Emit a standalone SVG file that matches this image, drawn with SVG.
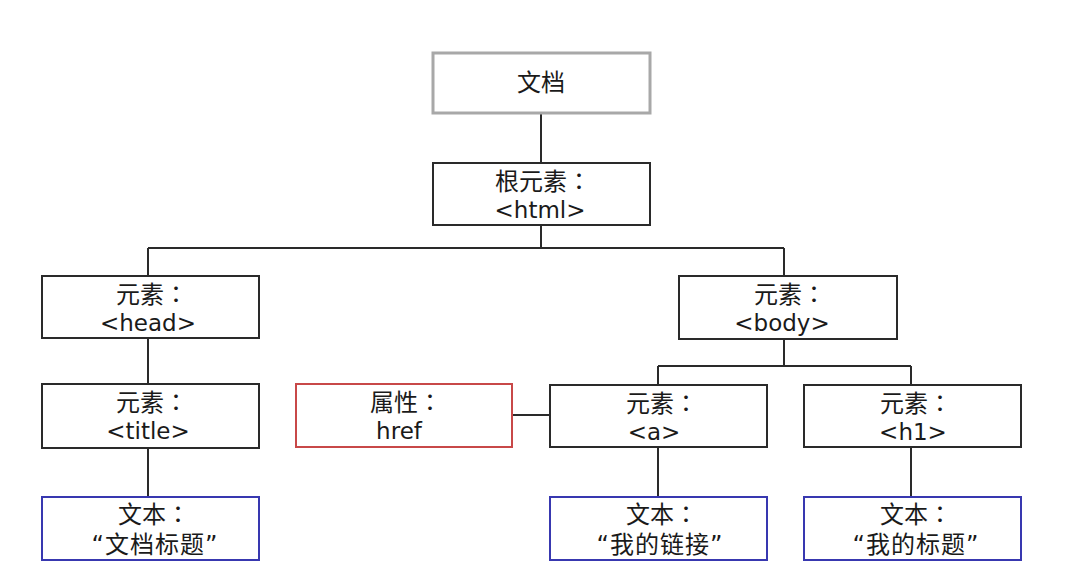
<svg xmlns="http://www.w3.org/2000/svg" width="1068" height="584" viewBox="0 0 1068 584">
<style>
.box{fill:#fff;stroke:#2a2a2a;stroke-width:2}
.doc{fill:#fff;stroke:#a8a8a8;stroke-width:3}
.attr{fill:#fff;stroke:#c84848;stroke-width:2}
.txt{fill:#fff;stroke:#3838b0;stroke-width:2}
.conn{fill:none;stroke:#2a2a2a;stroke-width:2}
text{font-family:"DejaVu Sans","Noto Sans CJK SC",sans-serif;font-size:23px;fill:#1a1a1a;text-anchor:middle}
.cjk{font-size:24px}
.q{letter-spacing:1px}
.c{font-family:"Noto Sans CJK TC",sans-serif}
</style>
<rect width="1068" height="584" fill="#fff"/>
<g id="connectors">
<path class="conn" d="M541 113V163"/>
<path class="conn" d="M541 225V248M148 248H784M148 248V276M784 248V276"/>
<path class="conn" d="M148 338V384M148 448V497"/>
<path class="conn" d="M784 339V366M658 366H911M658 366V385M911 366V385"/>
<path class="conn" d="M512 415H550"/>
<path class="conn" d="M658 447V497M911 447V497"/>
</g>
<g id="doc"><rect class="doc" x="433" y="53" width="217" height="60"/><text class="cjk" x="541" y="91">文档</text></g>
<g id="html"><rect class="box" x="433" y="163" width="217" height="62"/><text class="cjk" x="543" y="190">根元素<tspan class="c">：</tspan></text><text x="540" y="218">&lt;html&gt;</text></g>
<g id="head"><rect class="box" x="42" y="276" width="217" height="62"/><text class="cjk" x="152" y="303">元素<tspan class="c">：</tspan></text><text x="148" y="331">&lt;head&gt;</text></g>
<g id="body"><rect class="box" x="679" y="276" width="218" height="63"/><text class="cjk" x="790" y="303">元素<tspan class="c">：</tspan></text><text x="782" y="331">&lt;body&gt;</text></g>
<g id="title"><rect class="box" x="42" y="384" width="217" height="64"/><text class="cjk" x="152" y="411">元素<tspan class="c">：</tspan></text><text x="148" y="439">&lt;title&gt;</text></g>
<g id="href"><rect class="attr" x="296" y="384" width="216" height="63"/><text class="cjk" x="406" y="411">属性<tspan class="c">：</tspan></text><text x="399" y="439">href</text></g>
<g id="a"><rect class="box" x="550" y="385" width="217" height="62"/><text class="cjk" x="662" y="412">元素<tspan class="c">：</tspan></text><text x="654" y="440">&lt;a&gt;</text></g>
<g id="h1"><rect class="box" x="804" y="385" width="217" height="62"/><text class="cjk" x="916" y="412">元素<tspan class="c">：</tspan></text><text x="913" y="440">&lt;h1&gt;</text></g>
<g id="text1"><rect class="txt" x="42" y="497" width="217" height="63"/><text class="cjk" x="154" y="523">文本<tspan class="c">：</tspan></text><text class="cjk q" x="155" y="553">“文档标题”</text></g>
<g id="text2"><rect class="txt" x="550" y="497" width="217" height="63"/><text class="cjk" x="662" y="523">文本<tspan class="c">：</tspan></text><text class="cjk q" x="660" y="553">“我的链接”</text></g>
<g id="text3"><rect class="txt" x="804" y="497" width="217" height="63"/><text class="cjk" x="916" y="523">文本<tspan class="c">：</tspan></text><text class="cjk q" x="916" y="553">“我的标题”</text></g>
</svg>
